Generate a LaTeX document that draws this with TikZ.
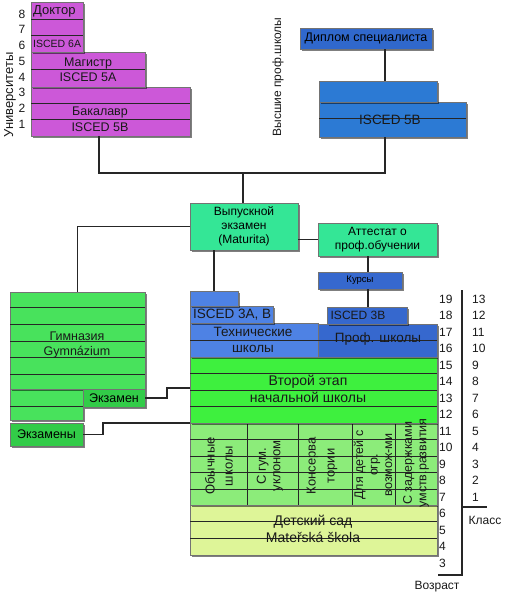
\documentclass[tikz,border=0pt]{standalone}
\usepackage{fontspec}
\setmainfont{Liberation Sans}
\usetikzlibrary{shadows}
\definecolor{mag}{RGB}{204,88,216}
\definecolor{bluA}{RGB}{44,122,212}
\definecolor{bluD}{RGB}{48,104,204}
\definecolor{bluL}{RGB}{78,130,228}
\definecolor{bluR}{RGB}{54,104,206}
\definecolor{mint}{RGB}{52,230,150}
\definecolor{grnB}{RGB}{62,240,62}
\definecolor{grnG}{RGB}{72,226,92}
\definecolor{grnE}{RGB}{50,204,72}
\definecolor{grnL}{RGB}{140,236,122}
\definecolor{kind}{RGB}{222,245,152}
\newcommand\mkblk[6]{\node[blk,fill=#2,minimum width=#5pt,minimum height=#6pt] (#1) at (#3,#4) {};}
\newcommand\myrows[3]{\foreach \yy in {#3} {\draw[rowln] (#1,\yy) -- (#2,\yy);}}
\tikzset{
  blk/.style={draw=black!55, line width=0.5pt, inner sep=0pt, outer sep=0pt, anchor=north west,
    drop shadow={shadow xshift=1.6pt, shadow yshift=-1.6pt, opacity=0.5, fill=black}},
  rowln/.style={draw=black!85, line width=0.7pt},
  con/.style={draw=black!85, line width=1.3pt},
  tx/.style={inner sep=0pt, align=center, text=black!90},
  fS/.style={font=\fontsize{9.5}{11}\selectfont},
  fM/.style={font=\fontsize{10.5}{12}\selectfont},
  fA/.style={font=\fontsize{12}{14}\selectfont},
  fB/.style={font=\fontsize{13.5}{16}\selectfont},
}
\begin{document}
\begin{tikzpicture}[x=1pt,y=-1pt]
\useasboundingbox (0,0) rectangle (507,600);

% ---------- universities ----------
\mkblk{uniC}{mag}{31}{87}{159}{49}
\mkblk{uniB}{mag}{31}{52}{114}{35}
\mkblk{uniA}{mag}{31}{2}{52}{50}
\myrows{31}{83}{19,35}
\myrows{31}{145}{69}
\myrows{31}{190}{103,119}
\node[tx,font=\fontsize{13}{15}\selectfont,anchor=west] (tDok) at (33,11) {Доктор};
\node[tx,fM,anchor=west] (t6A) at (33,44) {ISCED 6A};
\node[tx,font=\fontsize{12.5}{15}\selectfont] (tMag) at (88,69.5) {Магистр\\ISCED 5A};
\node[tx,font=\fontsize{12.5}{16}\selectfont] (tBak) at (100,119) {Бакалавр\\ISCED 5B};
\foreach \n in {1,...,8} {\node[tx,fA] (un\n) at (22,{124-(\n-1)*15.7}) {\n};}
\node[tx,font=\fontsize{13}{15}\selectfont,rotate=90] (tUni) at (10,95) {Университеты};

% ---------- higher professional ----------
\node[tx,fA,rotate=90] (tVys) at (278,77) {Высшие проф.школы};
\node[blk,fill=bluD,minimum width=132pt,minimum height=21pt,font=\fontsize{12.5}{14}\selectfont] (diplom) at (300,28) {Диплом специалиста};
\mkblk{isL}{bluA}{319}{102}{147}{35}
\mkblk{isU}{bluA}{319}{81}{118}{21}
\myrows{319}{466}{118}
\node[tx,fB] (t5B) at (390,120) {ISCED 5B};

% ---------- maturita / attestat / kursy ----------
\node[blk,fill=mint,minimum width=108pt,minimum height=47pt,font=\fontsize{12}{14}\selectfont,align=center] (mat) at (190,203) {Выпускной\\экзамен\\(Maturita)};
\node[blk,fill=mint,minimum width=119pt,minimum height=33pt,font=\fontsize{12}{14}\selectfont,align=center] (att) at (318,223) {Аттестат о\\проф.обучении};
\node[blk,fill=bluR,minimum width=84pt,minimum height=17pt,fS] (kurs) at (318,272) {Курсы};

% ---------- secondary / primary blocks ----------
\mkblk{kinder}{kind}{190}{505}{247}{50}
\myrows{190}{437}{521.7,538.3}
\mkblk{lower}{grnL}{190}{423}{247}{82}
\myrows{190}{437}{439.5,456,472.5,489}
\foreach \xx in {247,298,352,395} {\draw[rowln] (\xx,423) -- (\xx,505);}
\mkblk{stage}{grnB}{190}{357}{247}{66}
\myrows{190}{437}{373.5,390,406.5}
\mkblk{b3}{bluL}{190}{323}{128}{34}
\mkblk{b2}{bluL}{190}{306}{83}{17}
\mkblk{b1}{bluL}{190}{291}{48}{15}
\myrows{190}{318}{340}
\mkblk{r2}{bluR}{318}{324}{119}{33}
\mkblk{r1}{bluR}{327}{307}{80}{17}
\myrows{318}{437}{340}

\node[tx,fB,anchor=west] (t3AB) at (193,315) {ISCED 3A, B};
\node[tx,font=\fontsize{13.5}{16}\selectfont] (tTech) at (253,340) {Технические\\школы};
\node[tx,fA] (t3B) at (358,315) {ISCED 3B};
\node[tx,fB] (tProf) at (378,339) {Проф. школы};
\node[tx,font=\fontsize{14}{17}\selectfont] (tStage) at (308,389) {Второй этап\\начальной школы};
\node[tx,font=\fontsize{14}{17}\selectfont] (tKind) at (313,528.5) {Детский сад\\Mateřská škola};

\node[tx,rotate=90,font=\fontsize{13}{18}\selectfont] (c1) at (219,466) {Обычные\\школы};
\node[tx,rotate=90,font=\fontsize{13}{14.5}\selectfont] (c2) at (270,466) {С гум.\\уклоном};
\node[tx,rotate=90,font=\fontsize{13}{19}\selectfont] (c3) at (322,466) {Консерва\\тории};
\node[tx,rotate=90,font=\fontsize{12.5}{14.5}\selectfont] (c4) at (373,465) {Для детей с\\огр.\\возмож-ми};
\node[tx,rotate=90,font=\fontsize{12.5}{14.5}\selectfont] (c5) at (416,463) {С задержками\\умств.развития};

% ---------- gymnasium ----------
\mkblk{gymLo}{grnG}{10}{389}{73}{31}
\mkblk{gym}{grnG}{10}{292}{135}{97}
\myrows{10}{145}{307,324,341,357,374}
\myrows{10}{83}{406}
\node[blk,fill=grnE,minimum width=62pt,minimum height=18pt,font=\fontsize{12.5}{14}\selectfont] (ekz) at (83,389) {Экзамен};
\node[blk,fill=grnE,minimum width=73pt,minimum height=23pt,font=\fontsize{12.5}{14}\selectfont] (ekzy) at (10,423) {Экзамены};
\node[tx,font=\fontsize{12.5}{15}\selectfont] (tGym) at (77,344.5) {Гимназия\\Gymnázium};

% ---------- connectors ----------
\coordinate (jL) at (99,173);
\coordinate (jM) at (243,173);
\coordinate (jR) at (385,173);
\draw[con] (uniC.south -| jL) -- (jL) -- (jR) -- (isL.south -| jR);
\draw[con] (jM) -- (jM |- mat.north);
\coordinate (j5) at (385,0);
\draw[con] (diplom.south -| j5) -- (isU.north -| j5);
\draw[con] (mat.west) -| (gym.north);
\draw[con] (mat.south -| b1.north) -- (b1.north);
\draw[con] (mat.east |- att.west) -- (att.west);
\coordinate (kx) at (368,0);
\draw[con] (att.south -| kx) -- (kurs.north -| kx);
\draw[con] (kurs.south -| kx) -- (r1.north -| kx);
\coordinate (e1) at (167,388);
\draw[con] (ekz.east) -| (e1) -- (e1 -| stage.west);
\coordinate (e2) at (103,423);
\draw[con] (ekzy.east) -| (e2) -- (e2 -| lower.west);

% ---------- age / class scale ----------
\foreach \a in {3,...,19} {\node[tx,fA,anchor=west] (age\a) at (439,{291+(19-\a)*16.5+8.25}) {\a};}
\foreach \a in {7,...,19} {\pgfmathtruncatemacro\cc{\a-6}\node[tx,fA,anchor=west] (cl\cc) at (472,{291+(19-\a)*16.5+8.25}) {\cc};}
\coordinate (brT) at (462,290);
\coordinate (brB) at (462,575);
\coordinate (brL) at (438,575);
\coordinate (brK) at (487,507);
\draw[con,line width=1.1pt] (brT) -- (brB) -- (brL);
\draw[con,line width=1.1pt] (brT |- brK) -- (brK);
\node[tx,fA] (tKlass) at (485,520) {Класс};
\node[tx,fA] (tVozr) at (437,587) {Возраст};
\end{tikzpicture}
\end{document}
